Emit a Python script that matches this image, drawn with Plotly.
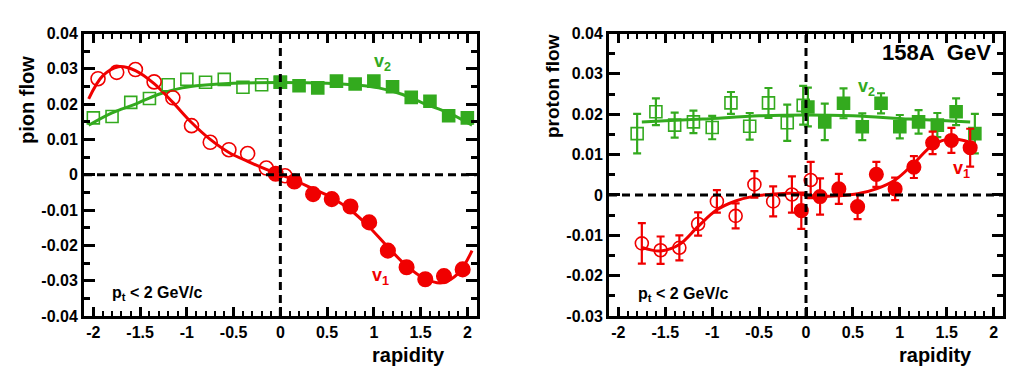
import plotly.graph_objects as go

# ---------------- Pion panel data ----------------
pi_v1_open_x = [-1.95, -1.75, -1.55, -1.35, -1.15, -0.95, -0.75, -0.55, -0.35, -0.15, 0.05]
pi_v1_open_y = [0.0272, 0.0290, 0.0298, 0.0263, 0.0218, 0.0139, 0.0092, 0.0071, 0.0060, 0.0019, -0.0003]
pi_v1_fill_x = [-0.05, 0.15, 0.35, 0.55, 0.75, 0.95, 1.15, 1.35, 1.55, 1.75, 1.95]
pi_v1_fill_y = [0.0003, -0.0019, -0.0055, -0.0069, -0.0090, -0.0135, -0.0215, -0.0262, -0.0296, -0.0287, -0.0268]

pi_v2_open_x = [-2.0, -1.8, -1.6, -1.4, -1.2, -1.0, -0.8, -0.6, -0.4, -0.2, 0.0]
pi_v2_open_y = [0.0161, 0.0165, 0.0205, 0.0216, 0.0255, 0.0270, 0.0262, 0.0270, 0.0248, 0.0255, 0.0262]
pi_v2_fill_x = [0.0, 0.2, 0.4, 0.6, 0.8, 1.0, 1.2, 1.4, 1.6, 1.8, 2.0]
pi_v2_fill_y = [0.0262, 0.0252, 0.0246, 0.0265, 0.0257, 0.0265, 0.0249, 0.0219, 0.0208, 0.0167, 0.0161]

pi_v1_fit_x = [-2.05, -1.9, -1.73, -1.55, -1.35, -1.15, -0.95, -0.75, -0.55, -0.35, -0.15, 0.0,
               0.15, 0.35, 0.55, 0.75, 0.95, 1.15, 1.35, 1.55, 1.73, 1.9, 2.05]
pi_v1_fit_y = [0.0215, 0.0280, 0.0306, 0.0295, 0.0258, 0.0205, 0.0148, 0.0100, 0.0063, 0.0038, 0.0015, 0.0,
               -0.0015, -0.0040, -0.0065, -0.0100, -0.0148, -0.0205, -0.0258, -0.0295, -0.0306, -0.0280, -0.0215]
pi_v2_fit_x = [-2.05, -1.8, -1.55, -1.3, -1.05, -0.8, -0.5, 0.0, 0.5, 0.8, 1.05, 1.3, 1.55, 1.8, 2.05]
pi_v2_fit_y = [0.0140, 0.0175, 0.0200, 0.0228, 0.0246, 0.0254, 0.0259, 0.0261, 0.0259, 0.0254, 0.0246, 0.0228, 0.0200, 0.0175, 0.0140]

# ---------------- Proton panel data ----------------
p_v2_open_x = [-1.8, -1.6, -1.4, -1.2, -1.0, -0.8, -0.6, -0.4, -0.2, -0.03]
p_v2_open_y = [0.0152, 0.0206, 0.0173, 0.0181, 0.0167, 0.0228, 0.0170, 0.0228, 0.0179, 0.0222]
p_v2_open_e = [0.0049, 0.0033, 0.0031, 0.0028, 0.0029, 0.0027, 0.0033, 0.0037, 0.0045, 0.0048]
p_v2_fill_x = [0.02, 0.2, 0.4, 0.6, 0.8, 1.0, 1.2, 1.4, 1.6, 1.8]
p_v2_fill_y = [0.0218, 0.0181, 0.0227, 0.0169, 0.0227, 0.0169, 0.0181, 0.0173, 0.0206, 0.0152]
p_v2_fill_e = [0.0048, 0.0045, 0.0037, 0.0033, 0.0025, 0.0029, 0.0029, 0.0030, 0.0033, 0.0049]

p_v1_open_x = [-1.75, -1.55, -1.35, -1.15, -0.95, -0.75, -0.55, -0.35, -0.15, 0.05]
p_v1_open_y = [-0.0120, -0.0137, -0.0131, -0.0072, -0.0016, -0.0052, 0.0026, -0.0016, 0.0001, 0.0037]
p_v1_open_e = [0.0050, 0.0034, 0.0031, 0.0029, 0.0028, 0.0031, 0.0033, 0.0037, 0.0045, 0.0045]
p_v1_fill_x = [-0.05, 0.15, 0.35, 0.55, 0.75, 0.95, 1.15, 1.35, 1.55, 1.75]
p_v1_fill_y = [-0.0039, -0.0004, 0.0015, -0.0029, 0.0051, 0.0015, 0.0069, 0.0129, 0.0135, 0.0117]
p_v1_fill_e = [0.0045, 0.0045, 0.0037, 0.0031, 0.0031, 0.0028, 0.0027, 0.0028, 0.0031, 0.0047]

p_v1_fit_x = [-1.75, -1.55, -1.35, -1.15, -0.95, -0.75, -0.55, -0.35, -0.15, 0.0,
              0.15, 0.35, 0.55, 0.75, 0.95, 1.15, 1.35, 1.55, 1.75]
p_v1_fit_y = [-0.0130, -0.0139, -0.0123, -0.0078, -0.0037, -0.0015, -0.0003, 0.0002, 0.0004, 0.0,
              -0.0004, -0.0002, 0.0003, 0.0015, 0.0037, 0.0078, 0.0123, 0.0139, 0.0130]
p_v2_fit_x = [-1.75, -1.5, -1.1, -0.5, 0.0, 0.5, 1.1, 1.5, 1.75]
p_v2_fit_y = [0.0181, 0.0184, 0.0188, 0.0196, 0.0198, 0.0196, 0.0188, 0.0184, 0.0181]

x_tickvals = [-2, -1.5, -1, -0.5, 0, 0.5, 1, 1.5, 2]
x_ticktext = ["-2", "-1.5", "-1", "-0.5", "0", "0.5", "1", "1.5", "2"]
pi_y_tickvals = [-0.04, -0.03, -0.02, -0.01, 0, 0.01, 0.02, 0.03, 0.04]
pi_y_ticktext = ["-0.04", "-0.03", "-0.02", "-0.01", "0", "0.01", "0.02", "0.03", "0.04"]
p_y_tickvals = [-0.03, -0.02, -0.01, 0, 0.01, 0.02, 0.03, 0.04]
p_y_ticktext = ["-0.03", "-0.02", "-0.01", "0", "0.01", "0.02", "0.03", "0.04"]

RED = "#f00000"
GREEN = "#33aa1e"
FONT = "Liberation Sans, Arial, Helvetica, sans-serif"

fig = go.Figure()

def pts(x, y, sym, color, size, xa, ya, err=None):
    kw = {}
    if err is not None:
        kw["error_y"] = dict(type="data", array=err, color=color, thickness=2.2, width=4)
    fig.add_trace(go.Scatter(
        x=x, y=y, mode="markers", xaxis=xa, yaxis=ya, showlegend=False,
        marker=dict(symbol=sym, color=color, size=size, line=dict(width=1.6, color=color)),
        **kw))

def fit(x, y, color, xa, ya):
    fig.add_trace(go.Scatter(x=x, y=y, mode="lines", xaxis=xa, yaxis=ya, showlegend=False,
                             line=dict(color=color, width=3, shape="spline", smoothing=1.0)))

# pion panel
fit(pi_v2_fit_x, pi_v2_fit_y, GREEN, "x", "y")
fit(pi_v1_fit_x, pi_v1_fit_y, RED, "x", "y")
pts(pi_v2_open_x, pi_v2_open_y, "square-open", GREEN, 12, "x", "y")
pts(pi_v2_fill_x, pi_v2_fill_y, "square", GREEN, 12, "x", "y")
pts(pi_v1_open_x, pi_v1_open_y, "circle-open", RED, 14, "x", "y")
pts(pi_v1_fill_x, pi_v1_fill_y, "circle", RED, 14.5, "x", "y")

# proton panel
fit(p_v2_fit_x, p_v2_fit_y, GREEN, "x2", "y2")
fit(p_v1_fit_x, p_v1_fit_y, RED, "x2", "y2")
pts(p_v2_open_x, p_v2_open_y, "square-open", GREEN, 12, "x2", "y2", p_v2_open_e)
pts(p_v2_fill_x, p_v2_fill_y, "square", GREEN, 12, "x2", "y2", p_v2_fill_e)
pts(p_v1_open_x, p_v1_open_y, "circle-open", RED, 13, "x2", "y2", p_v1_open_e)
pts(p_v1_fill_x, p_v1_fill_y, "circle", RED, 13.5, "x2", "y2", p_v1_fill_e)

def xaxis(domain):
    return dict(domain=domain, range=[-2.1, 2.1], showline=True, linewidth=3, linecolor="black",
                mirror="allticks", ticks="inside", ticklen=9, tickwidth=3, tickcolor="black",
                tickvals=x_tickvals, ticktext=x_ticktext, showgrid=False, zeroline=False,
                automargin=False,
                tickfont=dict(family=FONT, size=16, color="black", weight="bold"),
                minor=dict(dtick=0.1, tick0=0, ticks="inside", ticklen=5, tickwidth=2,
                           tickcolor="black", showgrid=False))

def yaxis(domain, rng, tv, tt, anchor):
    return dict(domain=domain, range=rng, anchor=anchor, showline=True, linewidth=3, linecolor="black",
                mirror="allticks", ticks="inside", ticklen=11, tickwidth=3, tickcolor="black",
                tickvals=tv, ticktext=tt, showgrid=False, zeroline=False, automargin=False,
                tickfont=dict(family=FONT, size=16, color="black", weight="bold"),
                minor=dict(dtick=0.005, tick0=0, ticks="inside", ticklen=6, tickwidth=2.5,
                           tickcolor="black", showgrid=False))

ydom = [62 / 378, 344.5 / 378]
fig.update_layout(
    width=1024, height=378, autosize=False,
    margin=dict(l=0, r=0, t=0, b=0, pad=0),
    paper_bgcolor="white", plot_bgcolor="white",
    xaxis=dict(xaxis([84 / 1024, 476.7 / 1024]), anchor="y"),
    yaxis=yaxis(ydom, [-0.04, 0.04], pi_y_tickvals, pi_y_ticktext, "x"),
    xaxis2=dict(xaxis([609 / 1024, 1003 / 1024]), anchor="y2"),
    yaxis2=yaxis(ydom, [-0.03, 0.04], p_y_tickvals, p_y_ticktext, "x2"),
)

dash = dict(color="black", width=3, dash="8px,5px")
shapes = []
for xr, yr, y0, y1 in [("x", "y", -0.04, 0.04), ("x2", "y2", -0.03, 0.04)]:
    shapes.append(dict(type="line", xref=xr, yref=yr, x0=-2.1, x1=2.1, y0=0, y1=0, line=dash, layer="above"))
    shapes.append(dict(type="line", xref=xr, yref=yr, x0=0, x1=0, y0=y0, y1=y1, line=dash, layer="above"))
fig.update_layout(shapes=shapes)

def txt(text, x, y, xref, yref, size, color="black", xanchor="center", yanchor="middle", angle=0):
    fig.add_annotation(text=text, x=x, y=y, xref=xref, yref=yref, showarrow=False,
                       xanchor=xanchor, yanchor=yanchor, textangle=angle,
                       font=dict(family=FONT, size=size, color=color, weight="bold"))

# axis titles
txt("pion flow", 27 / 1024, 1 - 100 / 378, "paper", "paper", 20, angle=-90)
txt("proton flow", 553 / 1024, 1 - 86 / 378, "paper", "paper", 19, angle=-90)
txt("rapidity", 408 / 1024, 1 - 355 / 378, "paper", "paper", 20)
txt("rapidity", 935 / 1024, 1 - 355 / 378, "paper", "paper", 20)

# in-plot labels
txt("v<sub>2</sub>", 1.09, 0.0318, "x", "y", 18, GREEN)
txt("v<sub>1</sub>", 1.07, -0.0287, "x", "y", 18, RED)
txt("p<sub>t</sub> &lt; 2 GeV/c", -1.82, -0.0336, "x", "y", 16, xanchor="left")
txt("v<sub>2</sub>", 0.64, 0.0265, "x2", "y2", 18, GREEN)
txt("v<sub>1</sub>", 1.66, 0.0062, "x2", "y2", 18, RED)
txt("p<sub>t</sub> &lt; 2 GeV/c", -1.81, -0.0247, "x2", "y2", 16, xanchor="left")
txt("158A&nbsp; GeV", 1.99, 0.0352, "x2", "y2", 22, xanchor="right")

fig.write_html("out.html",
               config={"displayModeBar": False},
               post_script="document.body.style.margin='0';document.body.style.padding='0';"
                           "document.body.style.overflow='hidden';")
